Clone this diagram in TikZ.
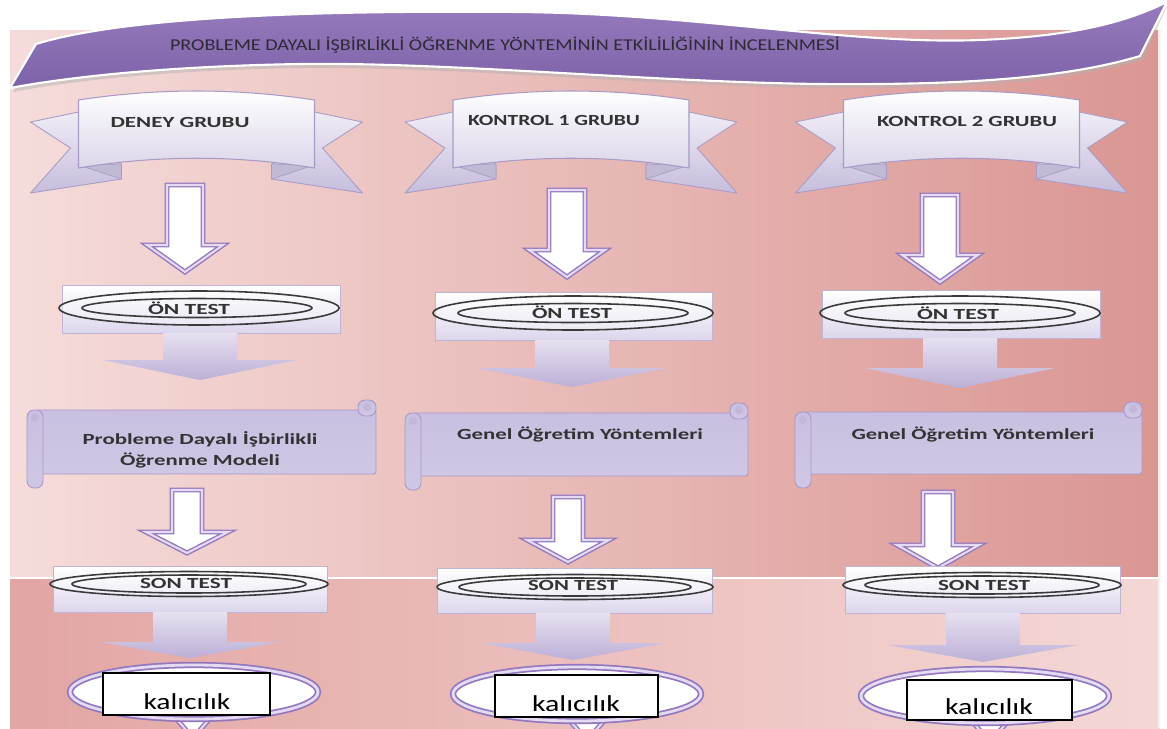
\documentclass[tikz,border=0pt]{standalone}
\usepackage{fontspec}
\setmainfont{Carlito}
\usepackage{graphicx}
\newcommand\fitw[2]{\resizebox{#1}{\height}{#2}}
\definecolor{bgA}{HTML}{F5DCDA}
\definecolor{bgB}{HTML}{DA9693}
\definecolor{bgC}{HTML}{E2A6A4}
\definecolor{bgD}{HTML}{F4D8D6}
\definecolor{bannerA}{HTML}{967BBD}
\definecolor{bannerB}{HTML}{7D62A8}
\definecolor{rbline}{HTML}{A89CC6}
\definecolor{rbtA}{HTML}{F0ECF6}
\definecolor{rbtB}{HTML}{C6BDDC}
\definecolor{rbfoldc}{HTML}{C2BAD4}
\definecolor{rbpB}{HTML}{DCD6EA}
\definecolor{apurple}{HTML}{9478BE}
\definecolor{alav}{HTML}{E4DAF2}
\definecolor{blkA}{HTML}{E6E0F0}
\definecolor{blkB}{HTML}{BCAFD6}
\definecolor{boxline}{HTML}{BEB4D4}
\definecolor{tbB}{HTML}{DDD6EC}
\definecolor{ringc}{HTML}{3A3A3A}
\definecolor{scrA}{HTML}{C9BFE0}
\definecolor{scrM}{HTML}{F0EDF6}
\definecolor{scrB}{HTML}{D0C7E5}
\definecolor{scrline}{HTML}{A898C8}
\definecolor{txt}{HTML}{333333}
\definecolor{ttxt}{HTML}{2E2A36}
\tikzset{
 rbtail/.style={top color=rbtA, bottom color=rbtB, draw=rbline, line width=0.5pt, line join=round},
 rbfold/.style={fill=rbfoldc, draw=rbline, line width=0.4pt},
 rbpanel/.style={top color=white, bottom color=rbpB, draw=rbline, line width=0.6pt},
 harrow/.style={draw=apurple, double=alav, double distance=1.2pt, line width=0.8pt, fill=white, line join=miter},
 barrow/.style={top color=blkA, bottom color=blkB, draw=none},
 testbox/.style={top color=white, bottom color=tbB, draw=boxline, line width=0.5pt},
 ringout/.style={draw=ringc, line width=0.9pt, fill=white, fill opacity=0.35},
 ringin/.style={draw=ringc, line width=0.9pt},
 kellipse/.style={draw=apurple, double=alav, double distance=1.6pt, line width=1pt, fill=white},
 kbox/.style={draw=black, line width=0.6pt, fill=white, inner sep=0pt},
 scrbody/.style={top color=scrA, middle color=scrM, bottom color=scrB, draw=scrline, line width=0.5pt},
 lab/.style={inner sep=0pt, text=txt, font=\bfseries\fontsize{8.8}{11.9}\selectfont, align=center},
 titletxt/.style={inner sep=0pt, text=ttxt, font=\fontsize{9.4}{11}\selectfont},
 ktxt/.style={inner sep=0pt, text=black, font=\fontsize{13}{15}\selectfont},
}
% cx, ytop, yhead, ytip, half shaft, half head
\newcommand\hollowarr[6]{\path[harrow] ({#1-#5},#2) -- ({#1+#5},#2) -- ({#1+#5},#3) -- ({#1+#6},#3) -- (#1,#4) -- ({#1-#6},#3) -- ({#1-#5},#3) -- cycle;}
\newcommand\blockarr[6]{\path[barrow] ({#1-#5},#2) -- ({#1+#5},#2) -- ({#1+#5},#3) -- ({#1+#6},#3) -- (#1,#4) -- ({#1-#6},#3) -- ({#1-#5},#3) -- cycle;}
\newcommand\ribbonshape[1]{%
 \begin{scope}[shift={(#1,0)}]
 \path[rbtail] (-118,112) -- (-166,122) -- (-126,148) -- (-166,193) -- (-75,179) -- (-75,165) -- cycle;
 \path[rbtail] (118,112) -- (166,122) -- (126,148) -- (166,193) -- (75,179) -- (75,165) -- cycle;
 \path[rbfold] (-118,165) -- (-75,179) -- (-75,164) -- cycle;
 \path[rbfold] (118,165) -- (75,179) -- (75,164) -- cycle;
 \path[rbpanel] (-118,100) .. controls (-40,88) and (40,88) .. (118,100) -- (118,168) .. controls (40,155) and (-40,155) .. (-118,168) -- cycle;
 \end{scope}}
% x0, x1, top, bottom
\newcommand\scrollshape[4]{%
 \path[scrbody, rounded corners=1.5pt] ({#1+8},{#3+10}) rectangle (#2,{#4-14});
 \path[scrbody, rounded corners=4pt] ({#2-18},#3) rectangle (#2,{#3+16});
 \path[scrbody, rounded corners=4pt] (#1,{#3+10}) rectangle ({#1+16},#4);
 \fill[scrline!70] ({#2-9},{#3+7}) circle (4);
 \fill[scrline!70] ({#1+8},{#3+18}) circle (4);}
\begin{document}
\begin{tikzpicture}[x=0.02cm,y=-0.02cm]
\useasboundingbox (0,0) rectangle (1167,728);
\clip (0,0) rectangle (1167,728);
\fill[white] (0,0) rectangle (1167,728);
% backgrounds
\shade[left color=bgA, right color=bgB] (10,30) rectangle (1160,578);
\shade[left color=bgC, right color=bgD] (10,578) rectangle (1160,728);
\draw[white, line width=1.5pt] (10,578) -- (1160,578);
\draw[white!85!bgB, line width=1pt] (1159,30) -- (1159,728);
% banner
\fill[black!30, opacity=0.5] (13,92) -- (39,49) .. controls (120,22) and (300,14) .. (520,16) .. controls (700,18) and (850,49) .. (980,44) .. controls (1080,40) and (1130,24) .. (1167,6) -- (1143,60) .. controls (1060,84) and (950,89) .. (820,88) .. controls (650,86) and (450,66) .. (300,68) .. controls (180,70) and (80,79) .. (13,92) -- cycle;
\path[top color=bannerA, bottom color=bannerB, draw=white, line width=1.2pt] (10,88) -- (36,44) .. controls (120,18) and (300,10) .. (520,12) .. controls (700,14) and (850,45) .. (980,40) .. controls (1080,36) and (1130,20) .. (1167,2) -- (1140,56) .. controls (1060,80) and (950,85) .. (820,84) .. controls (650,82) and (450,62) .. (300,64) .. controls (180,66) and (80,75) .. (10,88) -- cycle;
\node[titletxt] (title) at (505,45) {\fitw{13.4cm}{PROBLEME DAYALI İŞBİRLİKLİ ÖĞRENME YÖNTEMİNİN ETKİLİLİĞİNİN İNCELENMESİ}};
% ribbons
\ribbonshape{196.5}
\ribbonshape{571}
\ribbonshape{961.5}
\node[lab] (g1) at (180,122) {\fitw{2.78cm}{DENEY GRUBU}};
\node[lab] (g2) at (554,120) {\fitw{3.44cm}{KONTROL 1 GRUBU}};
\node[lab] (g3) at (967,121) {\fitw{3.6cm}{KONTROL 2 GRUBU}};
% hollow arrows 1
\hollowarr{185}{185}{245}{272}{18}{38}
\hollowarr{567}{190}{250}{277}{18}{38}
\hollowarr{940}{195}{255}{282}{18}{38}
% ON TEST
\path[testbox] (62,285) rectangle (340,333);
\path[testbox] (435,292) rectangle (712,340);
\path[testbox] (822,290) rectangle (1100,338);
\path[ringout] (199,308) ellipse [x radius=140, y radius=17];
\path[ringin] (197,308) ellipse [x radius=115, y radius=9.5];
\path[ringout] (573,313) ellipse [x radius=140, y radius=17];
\path[ringin] (573,313) ellipse [x radius=115, y radius=9.5];
\path[ringout] (960,313) ellipse [x radius=140, y radius=17];
\path[ringin] (960,313) ellipse [x radius=115, y radius=9.5];
\node[lab] (o1) at (189,308) {\fitw{1.64cm}{ÖN TEST}};
\node[lab] (o2) at (572,312) {\fitw{1.6cm}{ÖN TEST}};
\node[lab] (o3) at (958,313) {\fitw{1.64cm}{ÖN TEST}};
% block arrows 1
\blockarr{200}{333}{360}{380}{37}{97}
\blockarr{572}{340}{368}{387}{37}{95}
\blockarr{960}{338}{368}{388}{37}{95}
% scrolls
\scrollshape{27}{376}{400}{488}
\scrollshape{405}{748}{403}{490}
\scrollshape{795}{1142}{402}{488}
\node[lab] (m1) at (200,450) {\fitw{4.7cm}{Probleme Dayalı İşbirlikli}\\\fitw{3.2cm}{Öğrenme Modeli}};
\node[lab] (m2) at (580,435) {\fitw{4.92cm}{Genel Öğretim Yöntemleri}};
\node[lab] (m3) at (973,435) {\fitw{4.86cm}{Genel Öğretim Yöntemleri}};
% hollow arrows 2
\hollowarr{187}{490}{532}{553}{15}{41}
\hollowarr{568}{497}{540}{562}{15}{41}
\hollowarr{938}{492}{545}{568}{15}{41}
% SON TEST
\path[testbox] (53,566) rectangle (327,612);
\path[testbox] (437,568) rectangle (712,613);
\path[testbox] (845,566) rectangle (1120,613);
\path[ringout] (189,584) ellipse [x radius=139, y radius=12.5];
\path[ringin] (189,584) ellipse [x radius=117, y radius=9];
\path[ringout] (575,587) ellipse [x radius=138, y radius=12.5];
\path[ringin] (575,587) ellipse [x radius=116, y radius=9];
\path[ringout] (982,585) ellipse [x radius=139, y radius=12.5];
\path[ringin] (982,585) ellipse [x radius=117, y radius=9];
\node[lab] (s1) at (186,583) {\fitw{1.84cm}{SON TEST}};
\node[lab] (s2) at (573,585) {\fitw{1.8cm}{SON TEST}};
\node[lab] (s3) at (984,585) {\fitw{1.84cm}{SON TEST}};
% block arrows 2
\blockarr{190}{612}{642}{658}{37}{90}
\blockarr{573}{613}{643}{660}{37}{93}
\blockarr{983}{613}{645}{662}{37}{95}
% partial arrow heads at bottom
\path[harrow] (160,700) -- (193,738) -- (226,700) -- cycle;
\path[harrow] (553,702) -- (587,740) -- (621,702) -- cycle;
\path[harrow] (957,704) -- (990,742) -- (1023,704) -- cycle;
% kalicilik ellipses
\path[kellipse] (194,692) ellipse [x radius=124, y radius=27];
\path[kellipse] (577,694) ellipse [x radius=124, y radius=27];
\path[kellipse] (985,696) ellipse [x radius=124, y radius=27];
\node[kbox, minimum width=3.34cm, minimum height=0.84cm] (kb1) at (186.5,694) {};
\node[kbox, minimum width=3.26cm, minimum height=0.84cm] (kb2) at (576.5,696) {};
\node[kbox, minimum width=3.3cm, minimum height=0.8cm] (kb3) at (989.5,700) {};
\node[ktxt, anchor=base] (k1) at (187,709) {\fitw{1.74cm}{kalıcılık}};
\node[ktxt, anchor=base] (k2) at (576,711) {\fitw{1.76cm}{kalıcılık}};
\node[ktxt, anchor=base] (k3) at (989,714) {\fitw{1.76cm}{kalıcılık}};
\end{tikzpicture}
\end{document}
